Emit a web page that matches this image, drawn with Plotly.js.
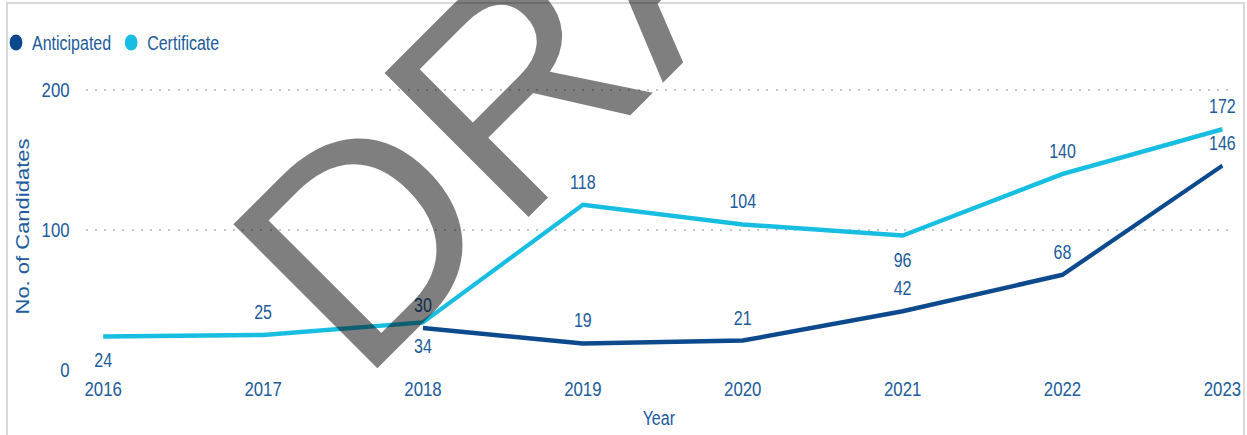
<!DOCTYPE html>
<html>
<head>
<meta charset="utf-8">
<script src="https://cdn.plot.ly/plotly-3.0.1.min.js"></script>
<style>
html,body{margin:0;padding:0;background:#fff;overflow:hidden;}
#wrap{position:relative;width:1247px;height:435px;overflow:hidden;}
#chart{position:absolute;left:0;top:0;transform-origin:0 0;}
#overlay{position:absolute;left:0;top:0;width:1247px;height:435px;pointer-events:none;}
</style>
</head>
<body>
<div id="wrap"><div id="chart"></div><div id="overlay"></div></div>
<script>
// ---- data ----
const years = [2016, 2017, 2018, 2019, 2020, 2021, 2022, 2023];
const anticipated = [null, null, 30, 19, 21, 42, 68, 146];
const certificate = [24, 25, 34, 118, 104, 96, 140, 172];
const seriesNames = ['Anticipated', 'Certificate'];
const yTicks = [0, 100, 200];
const xTitle = 'Year';
const yTitle = 'No. of Candidates';
const watermarkText = 'DRAFT';

// ---- geometry / styling ----
const W = 1247, H = 435;
const SX = 0.8;                       // horizontal condensing of the rendered chart
const W0 = W / SX;                    // pre-transform width
const M = {l: 85.4 / SX, r: W0 - 1231.6 / SX, t: 83, b: 65};

const darkBlue = '#0D4A8D';
const cyan = '#17BEE1';
const textBlue = '#215B9B';
const sans = '"Liberation Sans", Arial, sans-serif';

const certPos = ['bottom center','top center','bottom center','top center','top center','bottom center','top center','top center'];
const sizeFor = p => p.startsWith('top') ? 16 : 24;

function lineTrace(name, ys, color, positions) {
  return {
    type: 'scatter', mode: 'lines+markers+text', name: name,
    x: years, y: ys,
    text: ys.map(v => v == null ? '' : String(v)),
    textposition: positions,
    textfont: {family: sans, size: 20, color: textBlue},
    line: {color: color, width: 4.5, shape: 'linear'},
    marker: {size: positions.map(sizeFor), color: color, opacity: 0},
    connectgaps: false, showlegend: false, cliponaxis: false,
    hoverinfo: 'x+y+name'
  };
}

const traces = [
  lineTrace(seriesNames[0], anticipated, darkBlue, years.map(() => 'top center')),
  lineTrace(seriesNames[1], certificate, cyan, certPos),
  {type: 'scatter', mode: 'markers', name: seriesNames[0], x: [null], y: [null],
   marker: {color: darkBlue, size: 16, symbol: 'circle'}, showlegend: true},
  {type: 'scatter', mode: 'markers', name: seriesNames[1], x: [null], y: [null],
   marker: {color: cyan, size: 16, symbol: 'circle'}, showlegend: true}
];

const layout = {
  width: W0, height: H,
  margin: M,
  paper_bgcolor: 'rgba(0,0,0,0)', plot_bgcolor: 'rgba(0,0,0,0)',
  font: {family: sans, size: 20, color: textBlue},
  showlegend: true,
  legend: {
    orientation: 'h', xref: 'container', yref: 'container',
    x: (-18 / SX) / W0, xanchor: 'left', y: (H - 23) / H, yanchor: 'top',
    font: {family: sans, size: 20, color: textBlue},
    itemwidth: 30, tracegroupgap: 0, bgcolor: 'rgba(0,0,0,0)'
  },
  xaxis: {
    range: [2015.89, 2023.06], tickvals: years, ticktext: years.map(String),
    showgrid: false, zeroline: false, showline: false, ticks: '', automargin: false,
    tickfont: {family: sans, size: 21, color: textBlue},
    ticklabelstandoff: 4,
    title: {text: xTitle, font: {family: sans, size: 20, color: textBlue}, standoff: 12},
    fixedrange: true
  },
  yaxis: {
    range: [0, 205], tickvals: yTicks, ticktext: yTicks.map(String),
    showgrid: true, gridcolor: '#C6C6C6', gridwidth: 2, griddash: '2.5px,9px',
    zeroline: false, showline: false, ticks: '', automargin: false,
    tickfont: {family: sans, size: 21, color: textBlue},
    ticklabelstandoff: 19,
    title: {text: yTitle, font: {family: sans, size: 22, color: textBlue}, standoff: 9},
    fixedrange: true
  }
};

const chartDiv = document.getElementById('chart');
chartDiv.style.transform = 'scaleX(' + SX + ')';
Plotly.newPlot(chartDiv, traces, layout, {displayModeBar: false, staticPlot: true});

// overlay: frame and watermark (unscaled)
const ox = p => p / W, oy = p => (H - p) / H;
const overlayLayout = {
  width: W, height: H, margin: {l: 0, r: 0, t: 0, b: 0},
  paper_bgcolor: 'rgba(0,0,0,0)', plot_bgcolor: 'rgba(0,0,0,0)',
  xaxis: {visible: false, range: [0, 1]}, yaxis: {visible: false, range: [0, 1]},
  showlegend: false,
  shapes: [
    {type: 'rect', xref: 'paper', yref: 'paper', x0: ox(7), x1: ox(1244), y0: oy(445), y1: oy(3),
     line: {color: '#D9D9D9', width: 2}, fillcolor: 'rgba(0,0,0,0)'}
  ],
  annotations: [
    {text: watermarkText, xref: 'paper', yref: 'paper', x: ox(636), y: oy(-36),
     xanchor: 'center', yanchor: 'middle', showarrow: false, textangle: -45,
     font: {family: sans, size: 296, color: 'rgba(0,0,0,0.5)'}}
  ]
};
Plotly.newPlot('overlay', [], overlayLayout, {displayModeBar: false, staticPlot: true});
</script>
</body>
</html>
